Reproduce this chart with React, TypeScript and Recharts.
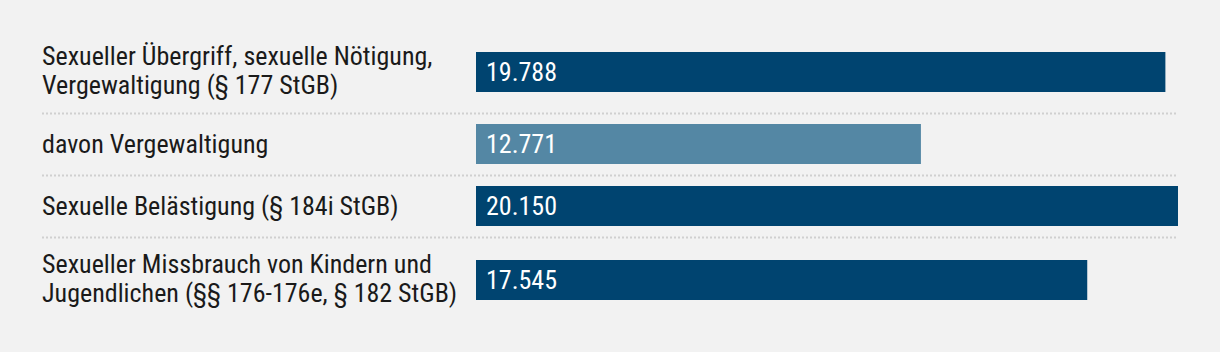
import React from "react";
import { BarChart, Bar, XAxis, YAxis, LabelList, Cell } from "recharts";

const categories = [
  "Sexueller Übergriff, sexuelle Nötigung,\nVergewaltigung (§ 177 StGB)",
  "davon Vergewaltigung",
  "Sexuelle Belästigung (§ 184i StGB)",
  "Sexueller Missbrauch von Kindern und\nJugendlichen (§§ 176-176e, § 182 StGB)",
];
const values = [19788, 12771, 20150, 17545];
const barColors = ["#004470", "#5487a4", "#004470", "#004470"];

const rowTops = [31, 113, 175, 237];
const rowHeights = [82, 62, 62, 86];
const FONT = "Roboto, 'Liberation Sans Narrow', sans-serif";
const STRETCH = "condensed";
const maxValue = Math.max(...values);

const fmt = (v: number) => String(v).replace(/\B(?=(\d{3})+(?!\d))/g, ".");

const LabelTick = (props: any) => {
  const { y, payload } = props;
  const lines = String(payload.value).split("\n");
  const first = lines.length > 1 ? y - 7 : y + 9;
  return (
    <text
      x={42}
      y={first}
      fill="#1a1a1a"
      fontSize={26}
      fontFamily={FONT}
      style={{ fontStretch: STRETCH }}
      textAnchor="start"
    >
      {lines.map((l, i) => (
        <tspan key={i} x={42} y={first + i * 29}>
          {l}
        </tspan>
      ))}
    </text>
  );
};

export default function App() {
  return (
    <div
      style={{
        position: "absolute",
        left: 0,
        top: 0,
        width: 1220,
        height: 352,
        background: "#f2f2f2",
        fontFamily: FONT,
        overflow: "hidden",
      }}
    >
      {categories.map((cat, i) => (
        <div key={i} style={{ position: "absolute", left: 0, top: rowTops[i] }}>
          <BarChart
            width={1220}
            height={rowHeights[i]}
            layout="vertical"
            data={[{ name: cat, value: values[i] }]}
            margin={{ top: 0, right: 42, bottom: 0, left: 0 }}
          >
            <XAxis type="number" domain={[0, maxValue]} hide />
            <YAxis
              type="category"
              dataKey="name"
              width={476}
              axisLine={false}
              tickLine={false}
              tick={<LabelTick />}
              interval={0}
            />
            <Bar dataKey="value" barSize={40} isAnimationActive={false}>
              <Cell fill={barColors[i]} />
              <LabelList
                dataKey="value"
                position="insideLeft"
                offset={10}
                formatter={(v: any) => fmt(Number(v))}
                fill="#ffffff"
                fontSize={26}
                fontFamily={FONT}
                style={{ fontStretch: STRETCH }}
              />
            </Bar>
          </BarChart>
          {i < categories.length - 1 && (
            <svg
              width={1220}
              height={4}
              style={{ position: "absolute", left: 0, top: rowHeights[i] - 1 }}
            >
              <line
                x1={42}
                x2={1178}
                y1={1.5}
                y2={1.5}
                stroke="#d0d0d0"
                strokeWidth={2}
                strokeDasharray="2 2"
              />
            </svg>
          )}
        </div>
      ))}
    </div>
  );
}
